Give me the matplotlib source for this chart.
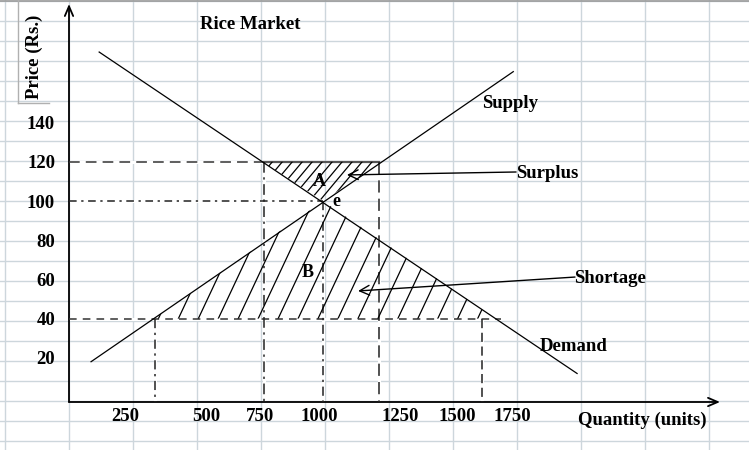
import numpy as np
import matplotlib.pyplot as plt
from matplotlib.patches import Polygon, Rectangle

plt.rcParams['font.family'] = ['Liberation Serif', 'DejaVu Serif']
plt.rcParams['font.weight'] = 'bold'

# chart values
demand_q = [35, 2095]
demand_p = [176, 12]
supply_q = [0, 1820]
supply_p = [18, 166]
eq_q, eq_p = 1000, 100
ceiling_p = 120
ceiling_q = [745, 1240]      # demand, supply at 120
floor_p = 40
floor_q = [275, 1685]        # supply, demand at 40
price_ticks = [20, 40, 60, 80, 100, 120, 140]
qty_labels = ['250', '500', '750', '1000', '1250', '1500', '1750']
qty_label_at = [147, 496, 728, 985, 1332, 1578, 1815]

W, H = 749, 450
fig = plt.figure(figsize=(W / 100, H / 100), dpi=100)

# spreadsheet-like background grid
bg = fig.add_axes([0, 0, 1, 1])
bg.set_xlim(0, W)
bg.set_ylim(H, 0)
bg.axis('off')
grid_c = '#cdd6dc'
for x in np.arange(5, W, 64):
    bg.axvline(x, color=grid_c, lw=1)
for y in np.arange(0.5, H, 20):
    bg.axhline(y, color=grid_c, lw=1)
bg.axhline(0.8, color='#9a9a9a', lw=1.2)
bg.add_patch(Rectangle((18, 10), 31, 93, facecolor='white', edgecolor='none'))
bg.plot([18, 18], [0, 103], color='#b0b0b0', lw=1)
bg.plot([18, 49], [103, 103], color='#b0b0b0', lw=1)
bg.add_patch(Rectangle((700, 141), 49, 39, facecolor='white', edgecolor='none'))

ax = fig.add_axes([69 / W, 48 / H, 680 / W, 402 / H])
ax.set_xlim(-95, 2836)
ax.set_ylim(-2.55, 202.55)
ax.patch.set_alpha(0)
for s in ax.spines.values():
    s.set_visible(False)

ax.set_yticks(price_ticks)
ax.tick_params(axis='y', length=0, pad=10, labelsize=13.5)
ax.set_xticks(qty_label_at, qty_labels)
ax.tick_params(axis='x', length=0, pad=4, labelsize=13.5)

# axes with arrow heads
arr = dict(arrowstyle='->,head_length=0.7,head_width=0.3', lw=1.3, color='k',
           shrinkA=0, shrinkB=0)
ax.annotate('', xy=(2711, -2.55), xytext=(-95, -2.55), arrowprops=arr,
            annotation_clip=False)
ax.annotate('', xy=(-95, 200.5), xytext=(-95, -2.55), arrowprops=arr,
            annotation_clip=False)


def dash(qs, ps, dashes, color='#222'):
    ax.plot(qs, ps, color='white', lw=2.2, solid_capstyle='butt', zorder=2)
    ax.plot(qs, ps, color=color, lw=1.1, dashes=dashes, zorder=3)


# guide lines
dash([-95, ceiling_q[0]], [ceiling_p, ceiling_p], (7, 4), color='#333')
ax.plot(ceiling_q, [ceiling_p, ceiling_p], color='#555', lw=1.6, zorder=3)
dash([-95, eq_q], [eq_p, eq_p], (5, 3, 1.5, 3))
dash([-95, floor_q[1] + 80], [floor_p, floor_p], (5, 4), color='#333')
dash([ceiling_q[0], ceiling_q[0]], [ceiling_p, -2.55], (7, 3, 1.5, 3))
dash([eq_q, eq_q], [eq_p, -2.55], (6, 3, 1.5, 3))
dash([ceiling_q[1], ceiling_q[1]], [ceiling_p, -2.55], (8, 4))
dash([floor_q[0], floor_q[0]], [floor_p, -2.55], (6, 3, 1.5, 3))
dash([floor_q[1], floor_q[1]], [floor_p, -2.55], (6, 3))

# demand and supply
ax.plot(demand_q, demand_p, color='k', lw=0.9, zorder=4)
ax.plot(supply_q, supply_p, color='k', lw=0.9, zorder=4)


def q_on(line_q, line_p, p):
    # quantity where a straight line reaches price p
    return np.interp(p, sorted(line_p), [q for _, q in sorted(zip(line_p, line_q))])


def hatch(verts, slope, step, p_lo, p_hi):
    patch = Polygon(verts, closed=True, fill=False, lw=0)
    ax.add_patch(patch)
    q_min = min(v[0] for v in verts) - (p_hi - p_lo) / slope
    q_max = max(v[0] for v in verts)
    for q0 in np.arange(q_min, q_max, step):
        ps = np.array([p_lo, p_hi])
        ln, = ax.plot(q0 + (ps - p_lo) / slope, ps, color='k', lw=0.9, zorder=4)
        ln.set_clip_path(patch)


# surplus region A
verts_a = [(q_on(demand_q, demand_p, ceiling_p), ceiling_p),
           (q_on(supply_q, supply_p, ceiling_p), ceiling_p),
           (eq_q, eq_p)]
hatch(verts_a, 0.142, 43, eq_p, ceiling_p)

# shortage region
verts_b = [(q_on(supply_q, supply_p, floor_p), floor_p),
           (eq_q, eq_p),
           (q_on(demand_q, demand_p, floor_p), floor_p)]
hatch(verts_b, 0.252, 86, floor_p, eq_p)

# labels and pointers
fs = 13.5
ax.text(470, 190.3, 'Rice Market', fontsize=fs, va='center')
ax.text(1685, 149.5, 'Supply', fontsize=fs, va='center')
ax.text(1834, 113.8, 'Surplus', fontsize=fs, va='center')
ax.text(2082, 60.7, 'Shortage', fontsize=fs, va='center')
ax.text(1935, 26, 'Demand', fontsize=fs, va='center')
ax.text(2099, -11.7, 'Quantity (units)', fontsize=fs, va='center')
ax.text(983, 110.2, 'A', fontsize=13, ha='center', va='center')
ax.text(1056, 99.5, 'e', fontsize=13, ha='center', va='center')
ax.text(935, 63.3, 'B', fontsize=13, ha='center', va='center')
fig.text(34 / W, 1 - 57 / H, 'Price (Rs.)', fontsize=fs, rotation=90,
         ha='center', va='center')

ptr = dict(arrowstyle='->,head_length=0.7,head_width=0.35', lw=1, color='k',
           shrinkA=0, shrinkB=0)
ax.annotate('', xy=(1103, 113.3), xytext=(1832, 114.8), arrowprops=ptr)
ax.annotate('', xy=(1151, 54.1), xytext=(2086, 61.2), arrowprops=ptr)

fig.savefig('out.png', dpi=100)
